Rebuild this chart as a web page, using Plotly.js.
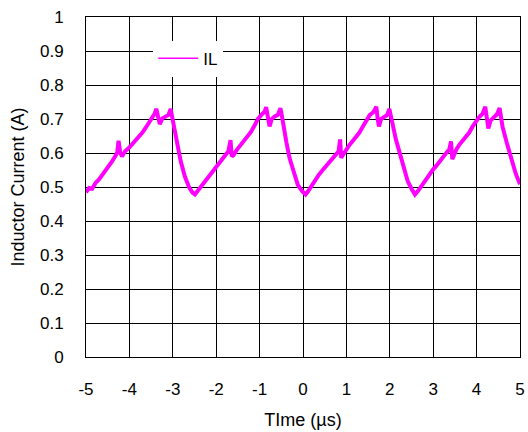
<!DOCTYPE html>
<html>
<head>
<meta charset="utf-8">
<script src="https://cdn.plot.ly/plotly-3.0.1.min.js"></script>
<style>html,body{margin:0;padding:0;background:#fff;}#chart{width:528px;height:432px;}</style>
</head>
<body>
<div id="chart"></div>
<script>
// Time in microseconds
var timeUs = [
  -5.00,-4.93,-4.86,-4.78,-4.70,-4.62,-4.55,-4.47,-4.40,-4.33,-4.28,-4.25,-4.21,-4.17,-4.10,-4.02,-3.94,-3.86,-3.78,-3.70,-3.62,-3.55,-3.48,-3.42,-3.38,-3.34,-3.30,-3.24,-3.17,-3.10,-3.05,-3.02,-2.98,-2.90,-2.82,-2.72,-2.62,-2.55,-2.49,
  -2.43,-2.36,-2.28,-2.20,-2.12,-2.04,-1.96,-1.88,-1.80,-1.72,-1.67,-1.64,-1.60,-1.52,-1.44,-1.36,-1.28,-1.20,-1.12,-1.04,-0.96,-0.88,-0.85,-0.80,-0.77,-0.72,-0.66,-0.58,-0.52,-0.49,-0.45,-0.38,-0.31,-0.22,-0.12,-0.02,0.06,
  0.12,0.20,0.28,0.36,0.44,0.52,0.60,0.68,0.76,0.82,0.855,0.88,0.92,1.00,1.07,1.15,1.23,1.30,1.38,1.46,1.54,1.62,1.69,1.72,1.75,1.80,1.87,1.94,1.99,2.02,2.06,2.14,2.22,2.32,2.41,2.50,2.58,
  2.66,2.74,2.82,2.91,3.00,3.07,3.14,3.22,3.30,3.37,3.41,3.44,3.48,3.54,3.60,3.68,3.76,3.83,3.90,3.98,4.06,4.14,4.20,4.24,4.27,4.32,4.40,4.47,4.53,4.56,4.60,4.70,4.79,4.90,5.00
];
// Inductor current IL in amperes
var currentIL = [
  0.484,0.497,0.495,0.512,0.522,0.535,0.548,0.562,0.575,0.590,0.602,0.636,0.600,0.590,0.605,0.614,0.625,0.635,0.648,0.660,0.675,0.690,0.705,0.715,0.730,0.700,0.685,0.702,0.707,0.712,0.730,0.712,0.680,0.630,0.577,0.530,0.498,0.484,0.478,
  0.488,0.500,0.517,0.530,0.542,0.556,0.567,0.580,0.592,0.605,0.638,0.590,0.594,0.610,0.622,0.635,0.648,0.662,0.680,0.700,0.712,0.722,0.735,0.700,0.678,0.700,0.707,0.712,0.732,0.712,0.675,0.630,0.585,0.545,0.506,0.488,0.478,
  0.488,0.505,0.522,0.535,0.548,0.560,0.572,0.583,0.595,0.605,0.640,0.586,0.594,0.612,0.624,0.636,0.648,0.660,0.678,0.698,0.712,0.720,0.736,0.700,0.678,0.700,0.707,0.712,0.730,0.712,0.678,0.640,0.604,0.560,0.518,0.495,0.478,
  0.490,0.505,0.520,0.538,0.552,0.562,0.575,0.588,0.600,0.610,0.634,0.582,0.596,0.612,0.624,0.636,0.648,0.660,0.676,0.692,0.706,0.716,0.736,0.700,0.672,0.695,0.707,0.714,0.732,0.712,0.676,0.628,0.584,0.540,0.508
];
var xTickVals = [-5,-4,-3,-2,-1,0,1,2,3,4,5];
var xTickText = ["-5","-4","-3","-2","-1","0","1","2","3","4","5"];
var yTickVals = [0,0.1,0.2,0.3,0.4,0.5,0.6,0.7,0.8,0.9,1];
var yTickText = ["0","0.1","0.2","0.3","0.4","0.5","0.6","0.7","0.8","0.9","1"];
var seriesName = "IL";

var fontFam = "Liberation Sans, Arial, sans-serif";
var trace = {
  x: timeUs, y: currentIL, type: "scatter", mode: "lines", name: seriesName,
  line: {color: "#FF00FF", width: 4}
};
var layout = {
  width: 528, height: 432,
  margin: {l: 86, r: 8, t: 17, b: 75},
  paper_bgcolor: "#fff", plot_bgcolor: "#fff",
  font: {family: fontFam, size: 17, color: "#000"},
  showlegend: true,
  legend: {x: 0.155, y: 0.93, xanchor: "left", yanchor: "top", bgcolor: "#fff", borderwidth: 0,
           font: {family: fontFam, size: 17, color: "#000"}, itemwidth: 40, itemclick: false},
  xaxis: {
    range: [-5, 5], tickvals: xTickVals, ticktext: xTickText, ticks: "", ticklabelstandoff: 17,
    tickfont: {family: fontFam, size: 17},
    showgrid: true, gridcolor: "#000", gridwidth: 1, zeroline: false,
    showline: true, linecolor: "#000", linewidth: 1, mirror: true,
    title: {text: "TIme (µs)", font: {family: fontFam, size: 18}, standoff: 14},
    automargin: false
  },
  yaxis: {
    range: [0, 1], tickvals: yTickVals, ticktext: yTickText, ticks: "", ticklabelstandoff: 18,
    tickfont: {family: fontFam, size: 17},
    showgrid: true, gridcolor: "#000", gridwidth: 1, zeroline: false,
    showline: true, linecolor: "#000", linewidth: 1, mirror: true,
    title: {text: "Inductor Current (A)", font: {family: fontFam, size: 18}, standoff: 10},
    automargin: false
  }
};
Plotly.newPlot("chart", [trace], layout, {displayModeBar: false, staticPlot: true}).then(function () {
  // thinner line sample in the legend, as in the reference
  document.querySelectorAll("#chart .legend .legendlines path").forEach(function (p) {
    p.style.strokeWidth = "1.5px";
  });
});
</script>
</body>
</html>
